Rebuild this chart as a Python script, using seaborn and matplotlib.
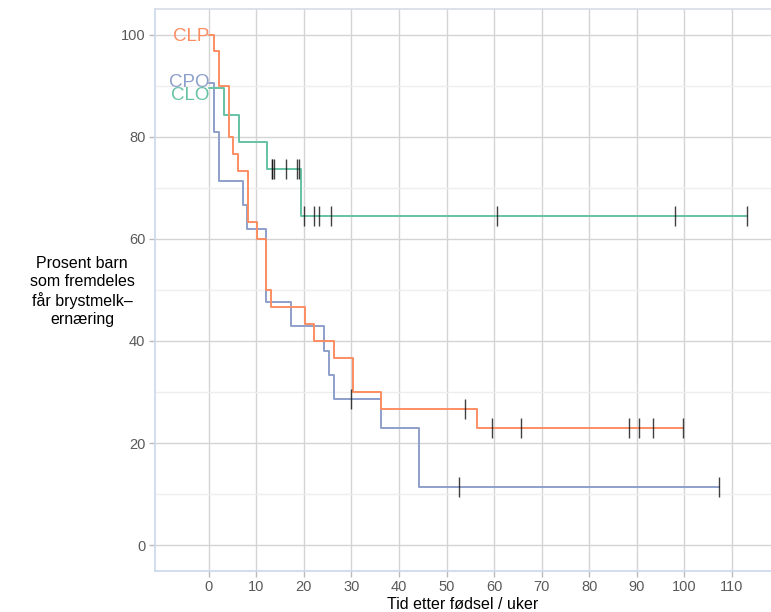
import numpy as np
import pandas as pd
import matplotlib
matplotlib.use("Agg")
import matplotlib.pyplot as plt
import seaborn as sns

# ---- data ----
groups = ["CLP", "CPO", "CLO"]

clp_times = [0, 1.0, 2.2, 4.2, 5.0, 6.1, 8.2, 10.1, 12.0, 13.1, 20.2, 22.2, 26.3, 30.3, 36.2, 56.3]
clp_surv = [100.0, 96.7, 90.0, 80.0, 76.7, 73.3, 63.3, 60.0, 50.0, 46.7, 43.3, 40.0, 36.7, 30.0, 26.7, 22.9]
clp_censor = [53.9, 59.5, 65.6, 88.4, 90.4, 93.4, 99.7]

cpo_times = [0, 1.0, 2.2, 7.1, 8.0, 12.0, 17.2, 24.2, 25.2, 26.3, 36.2, 44.3]
cpo_surv = [90.5, 81.0, 71.4, 66.7, 61.9, 47.6, 42.9, 38.1, 33.3, 28.6, 22.9, 11.4]
cpo_censor = [29.9, 52.6, 107.3]

clo_times = [0, 3.3, 6.3, 12.2, 19.3]
clo_surv = [89.5, 84.2, 78.9, 73.7, 64.5]
clo_censor = [13.4, 13.4, 13.8, 16.3, 18.5, 18.9, 20.0, 22.2, 23.1, 25.6, 60.7, 98.1, 113.2]

label_y = {"CLP": 99.6, "CPO": 90.6, "CLO": 88.1}
colors = {"CLP": "#fc8d62", "CPO": "#8da0cb", "CLO": "#66c2a5"}

curves = {
    "CLP": (clp_times, clp_surv, clp_censor),
    "CPO": (cpo_times, cpo_surv, cpo_censor),
    "CLO": (clo_times, clo_surv, clo_censor),
}

rows = []
for g, (t, s, c) in curves.items():
    tt = list(t) + [max(c)]
    ss = list(s) + [s[-1]]
    for a, b in zip(tt, ss):
        rows.append({"group": g, "time": a, "surv": b})
df = pd.DataFrame(rows)

sns.set_theme(style="white")
plt.rcParams["font.family"] = ["Liberation Sans", "DejaVu Sans"]

fig = plt.figure(figsize=(7.71, 6.12), dpi=100)
ax = fig.add_axes([155 / 771, 1 - 570.7 / 612, 1 - 155 / 771, (570.7 - 9) / 612])

ax.set_xlim(-11.3, 118.2)
ax.set_ylim(-5, 105)
ax.set_xticks(np.arange(0, 111, 10))
ax.set_yticks(np.arange(0, 101, 20))
ax.set_yticks(np.arange(10, 100, 20), minor=True)
ax.grid(True, which="major", color="#d4d4d4", linewidth=1.0)
ax.grid(True, which="minor", axis="y", color="#eeeeee", linewidth=1.0)
ax.set_axisbelow(True)

for g in ["CPO", "CLO", "CLP"]:
    sub = df[df["group"] == g]
    sns.lineplot(data=sub, x="time", y="surv", color=colors[g], estimator=None,
                 sort=False, drawstyle="steps-post", linewidth=1.4, ax=ax, legend=False)

for g, (t, s, c) in curves.items():
    idx = np.searchsorted(np.array(t), np.array(c), side="right") - 1
    yc = np.array(s)[idx]
    ax.plot(c, yc, linestyle="none", marker="|", markersize=14, markeredgewidth=1.0,
            color="#111111", alpha=0.8, zorder=5)

for g in groups:
    ax.text(0.1, label_y[g], g, color=colors[g], fontsize=13.5, ha="right", va="center")

for side in ["left", "bottom", "top"]:
    ax.spines[side].set_visible(True)
    ax.spines[side].set_color("#c9d8ec")
    ax.spines[side].set_linewidth(1.2)
ax.spines["top"].set_color("#d6dce6")
ax.spines["right"].set_visible(False)

ax.tick_params(axis="both", which="major", length=4, color="#bbbbbb", width=1,
               labelsize=10.5, labelcolor="#5a5a5a", pad=3)
ax.tick_params(axis="y", which="minor", length=0)
ax.tick_params(left=True, bottom=True)

ax.set_xlabel("Tid etter fødsel / uker", fontsize=11.5, color="black", labelpad=2)
ax.set_ylabel("Prosent barn\nsom fremdeles\nfår brystmelk–\nernæring", fontsize=11.5,
              color="black", rotation=0, ha="center", va="center", labelpad=0,
              linespacing=1.25)
ax.yaxis.set_label_coords(-0.118, 0.497)

fig.savefig("out.png", dpi=100)
